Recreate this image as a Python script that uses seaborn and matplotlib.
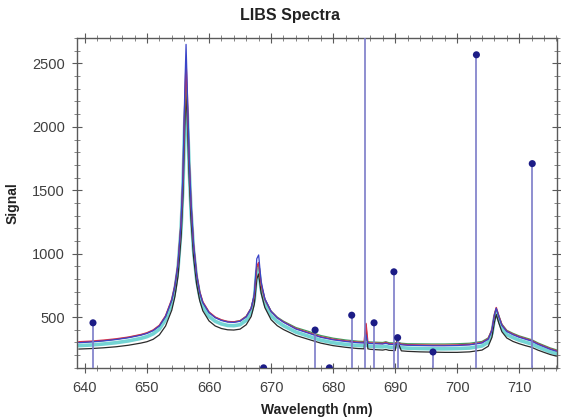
import numpy as np
import pandas as pd
import matplotlib
matplotlib.use("Agg")
import matplotlib.pyplot as plt
from matplotlib.ticker import MultipleLocator
import seaborn as sns

# ---------------- data ----------------
wavelength = [
    639, 641, 643, 645, 647, 649, 650, 651, 652, 653,
    654, 654.5, 655, 655.5, 655.8, 656.1, 656.3, 656.5, 656.8, 657.1,
    657.5, 658, 658.5, 659, 660, 661, 662, 663, 664, 665,
    666, 666.8, 667.3, 667.7, 668.0, 668.4, 669, 670, 671, 672,
    674, 676, 678, 680, 682, 684, 685.0, 685.3, 685.6, 686,
    688, 688.5, 689, 690, 690.3, 691, 692, 694, 696, 698,
    700, 702, 704, 705, 705.6, 706.0, 706.3, 706.7, 707.2, 708,
    709, 710, 711, 712, 713, 714, 715, 716,
]

spec_black = [
    248, 252, 258, 266, 278, 295, 306, 325, 360, 430,
    555, 660, 820, 1130, 1450, 2000, 2270, 2050, 1600, 1270,
    980, 760, 630, 550, 470, 430, 410, 400, 398, 405,
    440, 505, 600, 800, 840, 690, 575, 480, 432, 402,
    355, 325, 295, 275, 262, 252, 250, 440, 250, 246,
    240, 245, 238, 236, 320, 234, 230, 226, 224, 222,
    222, 226, 240, 270, 340, 460, 520, 455, 385, 335,
    308, 290, 275, 262, 240, 222, 205, 192,
]

spec_cyan = [
    275, 280, 288, 298, 312, 332, 346, 368, 405, 480,
    605, 715, 880, 1200, 1530, 2050, 2200, 2100, 1680, 1340,
    1030, 800, 665, 585, 505, 467, 446, 434, 432, 440,
    475, 540, 640, 860, 880, 720, 605, 512, 465, 432,
    382, 350, 318, 298, 285, 276, 274, 290, 272, 270,
    265, 270, 263, 261, 275, 259, 255, 252, 250, 250,
    252, 256, 272, 302, 370, 490, 545, 485, 412, 362,
    338, 318, 303, 288, 265, 245, 226, 212,
]

spec_green = [
    300, 306, 314, 325, 340, 360, 374, 396, 432, 505,
    632, 742, 910, 1235, 1580, 2150, 2350, 2200, 1720, 1385,
    1070, 835, 697, 617, 538, 498, 477, 465, 463, 472,
    507, 572, 672, 890, 915, 755, 640, 548, 500, 468,
    418, 388, 355, 334, 320, 310, 308, 330, 306, 304,
    300, 306, 298, 296, 305, 294, 290, 289, 288, 288,
    290, 294, 308, 336, 400, 515, 565, 510, 445, 396,
    372, 352, 337, 322, 297, 277, 257, 242,
]

spec_red = [
    305, 310, 318, 328, 342, 362, 376, 398, 435, 510,
    640, 750, 920, 1250, 1600, 2200, 2500, 2250, 1750, 1400,
    1080, 840, 700, 620, 540, 500, 478, 465, 462, 470,
    505, 570, 670, 900, 930, 760, 640, 545, 495, 462,
    410, 378, 345, 325, 312, 302, 300, 450, 298, 296,
    292, 300, 290, 288, 300, 286, 282, 280, 278, 278,
    280, 285, 300, 330, 400, 520, 575, 510, 440, 390,
    365, 345, 330, 315, 290, 270, 250, 235,
]

spec_blue = [
    298, 304, 312, 323, 337, 357, 371, 393, 430, 505,
    635, 745, 915, 1250, 1620, 2300, 2650, 2300, 1760, 1400,
    1075, 835, 695, 614, 535, 495, 473, 461, 458, 467,
    502, 570, 680, 960, 990, 780, 645, 545, 494, 460,
    406, 374, 341, 321, 308, 298, 296, 360, 294, 292,
    288, 294, 286, 284, 296, 282, 278, 276, 274, 274,
    276, 281, 296, 326, 395, 515, 570, 505, 435, 386,
    361, 341, 326, 311, 286, 266, 246, 231,
]

line_wl = [641.3, 668.8, 677.1, 679.4, 683.0, 685.2, 686.6, 689.8, 690.4, 696.1, 703.1, 712.1]
line_int = [455, 100, 398, 100, 515, 3000, 455, 857, 338, 225, 2568, 1710]

x_ticks = [640, 650, 660, 670, 680, 690, 700, 710]
y_ticks = [500, 1000, 1500, 2000, 2500]

series = {
    "cyan": spec_cyan,
    "black": spec_black,
    "green": spec_green,
    "red": spec_red,
    "blue": spec_blue,
}
for k, v in series.items():
    assert len(v) == len(wavelength), k

df = pd.concat(
    [pd.DataFrame({"Wavelength": wavelength, "Signal": v, "spec": k}) for k, v in series.items()],
    ignore_index=True,
)
lines_df = pd.DataFrame({"Wavelength": line_wl, "Signal": line_int})

# ---------------- plot ----------------
sns.set_theme(style="ticks")
plt.rcParams["font.family"] = ["Liberation Sans", "DejaVu Sans"]

fig = plt.figure(figsize=(5.61, 4.18), dpi=100)
ax = fig.add_axes([0.137, 0.12, 0.856, 0.789])

palette = {
    "cyan": "#74d4d4",
    "black": "#2a2a2a",
    "green": "#3f9f5f",
    "red": "#d8304a",
    "blue": "#3a44c8",
}
widths = {"cyan": 2.6, "black": 0.9, "green": 0.9, "red": 1.1, "blue": 0.9}

for name in series:
    sub = df[df["spec"] == name]
    sns.lineplot(data=sub, x="Wavelength", y="Signal", color=palette[name],
                 linewidth=widths[name], ax=ax, legend=False, zorder=2)

# emission line markers (stems)
ax.vlines(lines_df["Wavelength"], 0, lines_df["Signal"], color="#7c7cc8",
          linewidth=1.2, zorder=3)
sns.scatterplot(data=lines_df, x="Wavelength", y="Signal", color="#1c1c86",
                s=26, edgecolor="none", ax=ax, zorder=4, legend=False)

ax.set_xlim(638.7, 716.1)
ax.set_ylim(100, 2700)
ax.set_xticks(x_ticks)
ax.set_yticks(y_ticks)
ax.xaxis.set_minor_locator(MultipleLocator(2))
ax.yaxis.set_minor_locator(MultipleLocator(100))

for s in ax.spines.values():
    s.set_color("#5a5a5a")
    s.set_linewidth(1.0)

ax.tick_params(axis="both", which="major", direction="inout", length=7, width=0.8,
               color="#5a5a5a", labelsize=10.5, labelcolor="#404040",
               top=True, right=True)
ax.tick_params(axis="both", which="minor", direction="inout", length=4, width=0.6,
               color="#707070", top=True, right=True)
ax.tick_params(axis="x", which="major", pad=6)
ax.tick_params(axis="y", which="major", pad=5)

ax.set_xlabel("Wavelength (nm)", fontsize=10, fontweight="bold", color="#222222", labelpad=6)
ax.set_ylabel("Signal", fontsize=10, fontweight="bold", color="#222222", labelpad=9)
fig.text(0.517, 0.964, "LIBS Spectra", ha="center", va="center",
         fontsize=11.5, fontweight="bold", color="#222222")

fig.savefig("out.png", dpi=100, facecolor="white")
